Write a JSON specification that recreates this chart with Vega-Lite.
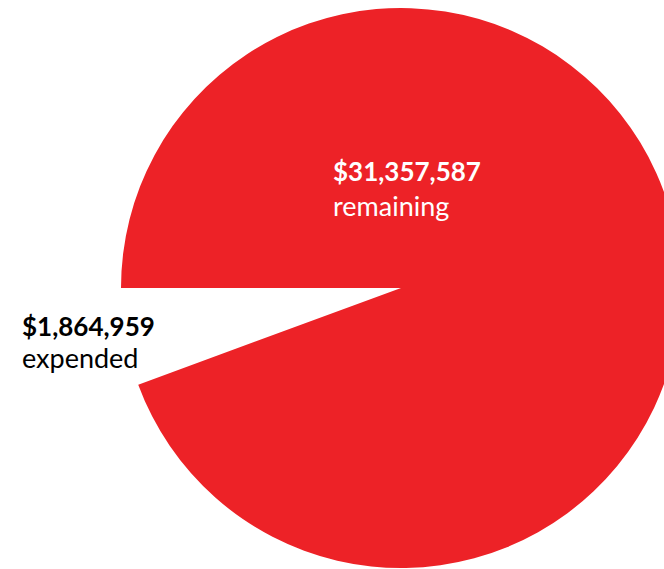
{
  "$schema": "https://vega.github.io/schema/vega-lite/v6.json",
  "width": 664,
  "height": 569,
  "autosize": "none",
  "padding": 0,
  "background": "#ffffff",
  "config": {"view": {"stroke": null}},
  "data": {"values": [
    {"category": "expended", "amount": 1864959},
    {"category": "remaining", "amount": 31357587}
  ]},
  "layer": [
    {
      "mark": {"type": "arc", "radius": 280, "x": 401, "y": 288},
      "encoding": {
        "theta": {"field": "amount", "type": "quantitative", "stack": true,
                  "scale": {"range": [4.3597, 10.6429], "nice": false, "zero": true}},
        "order": {"field": "category", "sort": "ascending"},
        "color": {"field": "category", "type": "nominal",
                  "scale": {"domain": ["expended", "remaining"], "range": ["#ffffff", "#ED2227"]},
                  "legend": null}
      }
    },
    {
      "mark": {"type": "text", "font": "Lato", "fontSize": 26, "fontWeight": "bold", "align": "left", "baseline": "alphabetic"},
      "encoding": {
        "text": {"field": "amount", "type": "quantitative", "format": "$,.0f"},
        "x": {"field": "category", "type": "nominal", "scale": {"type": "point", "padding": 0, "domain": ["expended", "remaining"], "range": [22, 333]}, "axis": null},
        "y": {"field": "category", "type": "nominal", "scale": {"type": "point", "padding": 0, "domain": ["expended", "remaining"], "range": [336, 181]}, "axis": null},
        "color": {"field": "category", "type": "nominal", "scale": {"domain": ["expended", "remaining"], "range": ["#000000", "#ffffff"]}, "legend": null}
      }
    },
    {
      "mark": {"type": "text", "font": "Lato", "fontSize": 27, "align": "left", "baseline": "alphabetic"},
      "encoding": {
        "text": {"field": "category", "type": "nominal"},
        "x": {"field": "category", "type": "nominal", "scale": {"type": "point", "padding": 0, "domain": ["expended", "remaining"], "range": [22, 333]}, "axis": null},
        "y": {"field": "category", "type": "nominal", "scale": {"type": "point", "padding": 0, "domain": ["expended", "remaining"], "range": [368, 216]}, "axis": null},
        "color": {"field": "category", "type": "nominal", "scale": {"domain": ["expended", "remaining"], "range": ["#000000", "#ffffff"]}, "legend": null}
      }
    }
  ],
  "resolve": {"scale": {"x": "independent", "y": "independent", "color": "independent"}}
}
